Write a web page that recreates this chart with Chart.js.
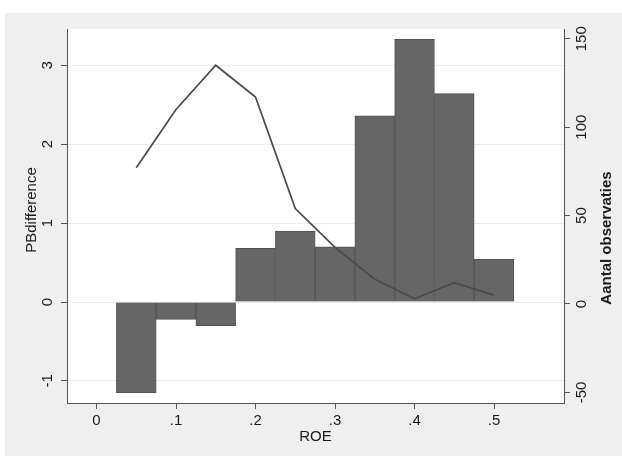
<!DOCTYPE html>
<html>
<head>
<meta charset="utf-8">
<script src="https://cdn.jsdelivr.net/npm/chart.js@4"></script>
<style>
  body { margin: 0; background: #fff; }
  canvas { display: block; }
</style>
</head>
<body>
<canvas id="grafico" width="622" height="457"></canvas>
<script>
// ROE bins (bin midpoints) with mean PB difference and number of observations
const roeBins = [0.05, 0.1, 0.15, 0.2, 0.25, 0.3, 0.35, 0.4, 0.45, 0.5];
const pbDifference = [-1.15, -0.22, -0.30, 0.68, 0.90, 0.70, 2.36, 3.33, 2.64, 0.54];
const aantalObs = [77, 110, 135, 117, 54, 32, 14, 3, 12, 5];

const xTicks = [0, 0.1, 0.2, 0.3, 0.4, 0.5];
const xTickLabels = ['0', '.1', '.2', '.3', '.4', '.5'];
const yTicks = [-1, 0, 1, 2, 3];
const yTickLabels = ['-1', '0', '1', '2', '3'];
const y1Ticks = [-50, 0, 50, 100, 150];
const y1TickLabels = ['-50', '0', '50', '100', '150'];

const FONT = '"Liberation Sans", Arial, sans-serif';
const TEXT = '#1a1a1a';
const AXIS = '#555';

// grey page + white plot region
const achtergrond = {
  id: 'achtergrond',
  beforeDraw(chart) {
    const { ctx, chartArea: a } = chart;
    ctx.save();
    ctx.fillStyle = '#fff';
    ctx.fillRect(0, 0, chart.width, chart.height);
    ctx.fillStyle = '#efefef';
    ctx.fillRect(5, 13, chart.width - 5, chart.height - 14);
    ctx.fillStyle = '#fff';
    ctx.fillRect(a.left, a.top, a.right - a.left, a.bottom - a.top);
    ctx.restore();
  }
};

// vertical axes: rotated tick labels and titles
function rotText(ctx, txt, x, y) {
  ctx.save();
  ctx.translate(x, y);
  ctx.rotate(-Math.PI / 2);
  ctx.fillText(txt, 0, 0);
  ctx.restore();
}

const yLabels = {
  id: 'yLabels',
  afterDraw(chart) {
    const { ctx, chartArea: a, scales } = chart;
    ctx.save();
    ctx.fillStyle = TEXT;
    ctx.textAlign = 'center';
    ctx.textBaseline = 'middle';
    ctx.font = '15px ' + FONT;
    yTicks.forEach((v, i) => rotText(ctx, yTickLabels[i], a.left - 19, scales.y.getPixelForValue(v)));
    y1Ticks.forEach((v, i) => rotText(ctx, y1TickLabels[i], a.right + 18, scales.y1.getPixelForValue(v)));
    rotText(ctx, 'PBdifference', 32, (a.top + a.bottom) / 2 - 6);
    ctx.font = 'bold 15px ' + FONT;
    rotText(ctx, 'Aantal observaties', a.right + 43, (a.top + a.bottom) / 2 + 22);
    ctx.restore();
  }
};

new Chart(document.getElementById('grafico'), {
  type: 'bar',
  data: {
    datasets: [
      {
        type: 'line',
        label: 'Aantal observaties',
        data: roeBins.map((x, i) => ({ x: x, y: aantalObs[i] })),
        yAxisID: 'y1',
        borderColor: '#4a4a4a',
        borderWidth: 1.7,
        pointRadius: 0,
        tension: 0,
        order: 0
      },
      {
        label: 'PBdifference',
        data: roeBins.map((x, i) => ({ x: x, y: pbDifference[i] })),
        yAxisID: 'y',
        backgroundColor: '#666666',
        borderColor: '#545454',
        borderWidth: 1,
        barPercentage: 1,
        categoryPercentage: 1,
        order: 1
      }
    ]
  },
  options: {
    responsive: false,
    animation: false,
    devicePixelRatio: 1,
    layout: { padding: { top: 29, left: 0, right: 0, bottom: 0 } },
    plugins: { legend: { display: false }, tooltip: { enabled: false } },
    scales: {
      x: {
        type: 'linear',
        min: -0.0371,
        max: 0.588,
        offset: false,
        afterBuildTicks: s => { s.ticks = xTicks.map(v => ({ value: v })); },
        afterFit: s => { s.height = 54; },
        grid: { offset: false, drawOnChartArea: false, tickLength: 6, tickColor: AXIS },
        border: { color: AXIS, width: 1 },
        ticks: {
          padding: 3,
          color: TEXT,
          font: { family: FONT, size: 15 },
          maxRotation: 0,
          callback: (v, i) => xTickLabels[i]
        },
        title: {
          display: true,
          text: 'ROE',
          color: TEXT,
          font: { family: FONT, size: 15 },
          padding: { top: 0, bottom: 11 }
        }
      },
      y: {
        position: 'left',
        min: -1.28,
        max: 3.46,
        afterBuildTicks: s => { s.ticks = yTicks.map(v => ({ value: v })); },
        afterFit: s => { s.width = 67; },
        grid: { color: '#ebebeb', lineWidth: 1, tickLength: 6, tickColor: AXIS },
        border: { color: AXIS, width: 1 },
        ticks: { display: false }
      },
      y1: {
        position: 'right',
        min: -56,
        max: 155.5,
        afterBuildTicks: s => { s.ticks = y1Ticks.map(v => ({ value: v })); },
        afterFit: s => { s.width = 58; },
        grid: { drawOnChartArea: false, tickLength: 6, tickColor: AXIS },
        border: { color: AXIS, width: 1 },
        ticks: { display: false }
      }
    }
  },
  plugins: [achtergrond, yLabels]
});
</script>
</body>
</html>
